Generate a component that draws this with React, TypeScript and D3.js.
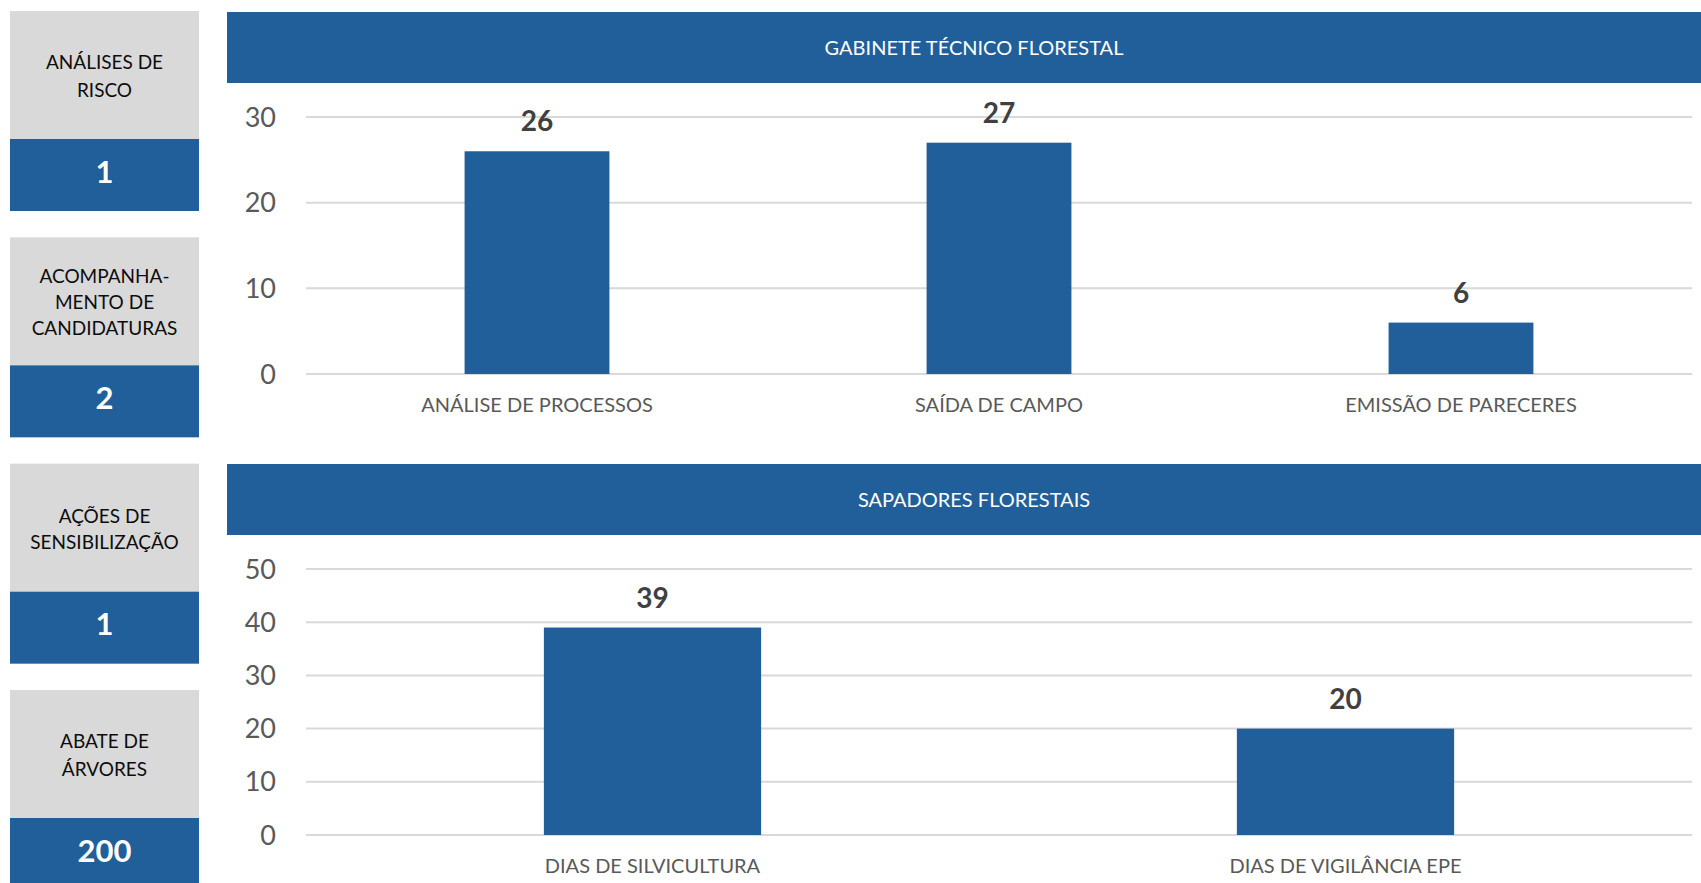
import React from "react";
import * as d3 from "d3";

const kpiLabels: string[][] = [
  ["ANÁLISES DE", "RISCO"],
  ["ACOMPANHA-", "MENTO DE", "CANDIDATURAS"],
  ["AÇÕES DE", "SENSIBILIZAÇÃO"],
  ["ABATE DE", "ÁRVORES"],
];
const kpiValues = [1, 2, 1, 200];

const gtfTitle = "GABINETE TÉCNICO FLORESTAL";
const gtfCategories = ["ANÁLISE DE PROCESSOS", "SAÍDA DE CAMPO", "EMISSÃO DE PARECERES"];
const gtfValues = [26, 27, 6];
const gtfTicks = [0, 10, 20, 30];

const sfTitle = "SAPADORES FLORESTAIS";
const sfCategories = ["DIAS DE SILVICULTURA", "DIAS DE VIGILÂNCIA EPE"];
const sfValues = [39, 20];
const sfTicks = [0, 10, 20, 30, 40, 50];

const W = 1701;
const H = 883;
const BLUE = "#215F9A";
const GRAY_BOX = "#D9D9D9";
const GRID = "#D9D9D9";
const FONT = "Lato, 'Open Sans', sans-serif";

const boxLineSpacing = [28, 26, 26, 28];

interface ChartProps {
  title: string;
  categories: string[];
  values: number[];
  ticks: number[];
  bannerTop: number;
  yTop: number;
  yBottom: number;
}

function BarPanel({ title, categories, values, ticks, bannerTop, yTop, yBottom }: ChartProps) {
  const x = d3.scaleBand<string>().domain(categories).range([306, 1692]).padding(0);
  const y = d3.scaleLinear().domain([0, d3.max(ticks) as number]).range([yBottom, yTop]);
  const barW = x.bandwidth() / (1 + 2.19);
  return (
    <g>
      <rect x={227} y={bannerTop} width={W - 227} height={71} fill={BLUE} />
      <text
        x={974}
        y={bannerTop + 42.5}
        textAnchor="middle"
        fill="#FFFFFF"
        fontSize={20}
        fontFamily={FONT}
      >
        {title}
      </text>
      {ticks.map((t) => (
        <g key={t}>
          <line x1={306} x2={1692} y1={y(t)} y2={y(t)} stroke={GRID} strokeWidth={2} />
          <text
            x={276}
            y={y(t) + 9.5}
            textAnchor="end"
            fill="#595959"
            fontSize={27}
            fontFamily={FONT}
          >
            {t}
          </text>
        </g>
      ))}
      {categories.map((c, i) => {
        const cx = (x(c) as number) + x.bandwidth() / 2;
        const top = y(values[i]);
        return (
          <g key={c}>
            <rect x={cx - barW / 2} y={top} width={barW} height={y(0) - top} fill={BLUE} />
            <text
              x={cx}
              y={top - 20}
              textAnchor="middle"
              fill="#404040"
              fontSize={28}
              fontWeight="bold"
              fontFamily={FONT}
            >
              {values[i]}
            </text>
            <text
              x={cx}
              y={y(0) + 38}
              textAnchor="middle"
              fill="#595959"
              fontSize={20}
              fontFamily={FONT}
            >
              {c}
            </text>
          </g>
        );
      })}
    </g>
  );
}

export default function App() {
  const boxTop = d3.scaleLinear().domain([0, 3]).range([11, 690]);
  return (
    <svg
      width={W}
      height={H}
      viewBox={`0 0 ${W} ${H}`}
      style={{ position: "absolute", left: 0, top: 0, display: "block", background: "#FFFFFF" }}
    >
      <rect x={0} y={0} width={W} height={H} fill="#FFFFFF" />
      {kpiLabels.map((lines, i) => {
        const top = boxTop(i);
        const grayC = top + 64;
        const blueC = top + 128 + 36;
        const L = boxLineSpacing[i];
        return (
          <g key={i}>
            <rect x={10} y={top} width={189} height={128} fill={GRAY_BOX} />
            <rect x={10} y={top + 128} width={189} height={72} fill={BLUE} />
            {lines.map((ln, j) => (
              <text
                key={j}
                x={104.5}
                y={grayC + 8 + (j - (lines.length - 1) / 2) * L}
                textAnchor="middle"
                fill="#0D0D0D"
                fontSize={19}
                fontFamily={FONT}
              >
                {ln}
              </text>
            ))}
            <text
              x={104.5}
              y={blueC + 7.5}
              textAnchor="middle"
              fill="#FFFFFF"
              fontSize={31}
              fontWeight="bold"
              fontFamily={FONT}
            >
              {kpiValues[i]}
            </text>
          </g>
        );
      })}
      <BarPanel
        title={gtfTitle}
        categories={gtfCategories}
        values={gtfValues}
        ticks={gtfTicks}
        bannerTop={12}
        yTop={117}
        yBottom={374}
      />
      <BarPanel
        title={sfTitle}
        categories={sfCategories}
        values={sfValues}
        ticks={sfTicks}
        bannerTop={464}
        yTop={569}
        yBottom={835}
      />
    </svg>
  );
}
